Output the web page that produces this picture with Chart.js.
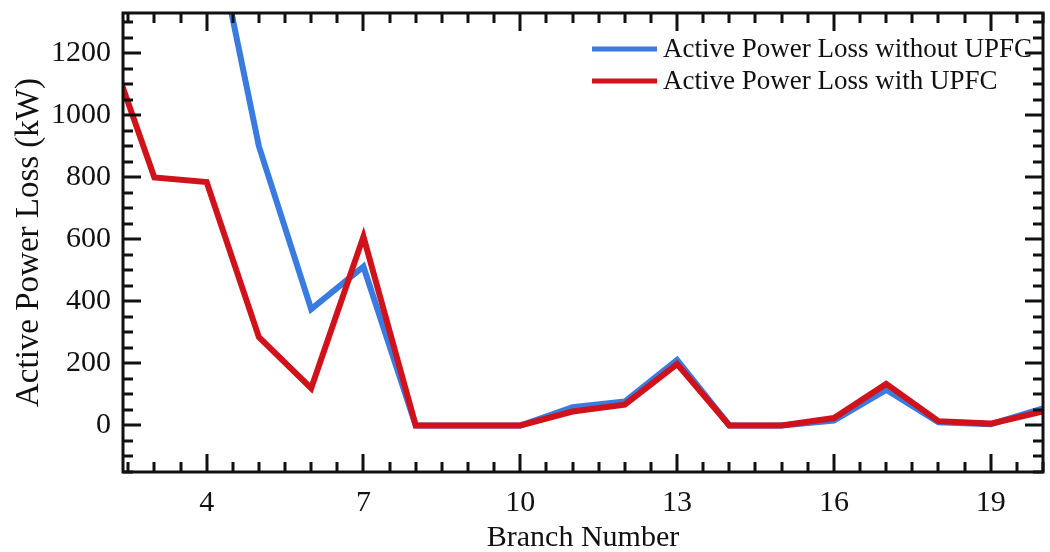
<!DOCTYPE html>
<html>
<head>
<meta charset="utf-8">
<script src="https://cdn.jsdelivr.net/npm/chart.js@4/dist/chart.umd.min.js"></script>
<style>
  html, body { margin: 0; padding: 0; background: #fff; }
</style>
</head>
<body>
<canvas id="lossChart" width="1050" height="552"></canvas>
<script>
// branch losses in kW
const branches = [2, 3, 4, 5, 6, 7, 8, 9, 10, 11, 12, 13, 14, 15, 16, 17, 18, 19, 20];
const lossWithout = [null, null, 1720, 900, 375, 512, 0, 0, 0, 59, 77, 211, 0, 0, 16, 115, 10, 4, 55];
const lossWith = [1280, 800, 785, 285, 120, 609, 0, 0, 0, 45, 67, 198, 0, 0, 24, 134, 14, 6, 45];
const xTicks = [4, 7, 10, 13, 16, 19];
const yTicks = [0, 200, 400, 600, 800, 1000, 1200];

const SERIF = "'Liberation Serif', 'Times New Roman', serif";
const INK = '#111';

const toPoints = (ys) => branches.map((b, i) => ({ x: b, y: ys[i] }));

// scales should not push the plot area around for label overflow
const noScalePadding = (s) => {
  s.paddingTop = 0; s.paddingBottom = 0; s.paddingLeft = 0; s.paddingRight = 0;
};

// boxed frame with inward major/minor ticks on all four sides
const frameTicks = {
  id: 'frameTicks',
  afterDraw(chart, args, opts) {
    const { ctx, chartArea: a, scales: { x, y } } = chart;
    ctx.save();
    ctx.strokeStyle = INK;
    ctx.lineWidth = opts.width;
    ctx.lineCap = 'butt';
    ctx.beginPath();
    for (let v = Math.ceil(x.min / opts.xMinor) * opts.xMinor; v <= x.max + 1e-9; v += opts.xMinor) {
      const px = Math.round(x.getPixelForValue(v));
      const len = xTicks.some(t => Math.abs(t - v) < 1e-6) ? opts.major : opts.minor;
      ctx.moveTo(px, a.bottom); ctx.lineTo(px, a.bottom - len);
      ctx.moveTo(px, a.top); ctx.lineTo(px, a.top + len);
    }
    for (let v = Math.ceil(y.min / opts.yMinor) * opts.yMinor; v <= y.max + 1e-9; v += opts.yMinor) {
      const py = Math.round(y.getPixelForValue(v));
      const len = yTicks.includes(v) ? opts.major : opts.minor;
      ctx.moveTo(a.left, py); ctx.lineTo(a.left + len, py);
      ctx.moveTo(a.right, py); ctx.lineTo(a.right - len, py);
    }
    ctx.stroke();
    ctx.strokeRect(a.left, a.top, a.right - a.left, a.bottom - a.top);
    ctx.restore();
  }
};

// legend inside the plot, top right
const innerLegend = {
  id: 'innerLegend',
  afterDraw(chart, args, opts) {
    const { ctx } = chart;
    ctx.save();
    ctx.font = opts.fontSize + 'px ' + SERIF;
    ctx.textBaseline = 'middle';
    ctx.textAlign = 'left';
    chart.data.datasets.forEach((ds, i) => {
      const yy = opts.y + i * opts.rowGap;
      ctx.strokeStyle = ds.borderColor;
      ctx.lineWidth = opts.lineWidth;
      ctx.beginPath();
      ctx.moveTo(opts.x, yy);
      ctx.lineTo(opts.x + opts.lineLen, yy);
      ctx.stroke();
      ctx.fillStyle = INK;
      ctx.fillText(ds.label, opts.x + opts.lineLen + opts.gap, yy + 1);
    });
    ctx.restore();
  }
};

new Chart(document.getElementById('lossChart'), {
  type: 'line',
  data: {
    datasets: [
      {
        label: 'Active Power Loss without UPFC',
        data: toPoints(lossWithout),
        borderColor: '#3a7be0',
        borderWidth: 6,
        order: 1
      },
      {
        label: 'Active Power Loss with UPFC',
        data: toPoints(lossWith),
        borderColor: '#d0121b',
        borderWidth: 6,
        order: 0
      }
    ]
  },
  options: {
    responsive: false,
    animation: false,
    devicePixelRatio: 1,
    layout: { autoPadding: false, padding: { top: 13, right: 7, left: 0, bottom: 0 } },
    elements: {
      point: { radius: 0 },
      line: { tension: 0, borderJoinStyle: 'miter', fill: false }
    },
    datasets: { line: { clip: 0, spanGaps: false } },
    plugins: {
      legend: { display: false },
      tooltip: { enabled: false },
      frameTicks: { width: 3, major: 18, minor: 10, xMinor: 0.5, yMinor: 50 },
      innerLegend: { x: 592, y: 49, rowGap: 32, lineLen: 65, gap: 6, lineWidth: 5, fontSize: 27 }
    },
    scales: {
      x: {
        type: 'linear',
        min: 2.4,
        max: 20,
        afterBuildTicks: (s) => { s.ticks = xTicks.map(v => ({ value: v })); },
        afterFit: (s) => { s.height = 80; noScalePadding(s); },
        grid: { display: false, drawTicks: false },
        border: { display: false },
        ticks: {
          autoSkip: false,
          maxRotation: 0,
          padding: 13,
          color: INK,
          font: { family: SERIF, size: 30 },
          callback: (v) => String(v)
        },
        title: {
          display: true,
          text: 'Branch Number',
          color: INK,
          font: { family: SERIF, size: 30 },
          padding: { top: 0, bottom: -4 }
        }
      },
      y: {
        type: 'linear',
        min: -150,
        max: 1330,
        afterBuildTicks: (s) => { s.ticks = yTicks.map(v => ({ value: v })); },
        afterFit: (s) => { s.width = 123; noScalePadding(s); },
        grid: { display: false, drawTicks: false },
        border: { display: false },
        ticks: {
          padding: 12,
          color: INK,
          font: { family: SERIF, size: 30 },
          callback: (v) => String(v)
        },
        title: {
          display: true,
          text: 'Active Power Loss (kW)',
          color: INK,
          font: { family: SERIF, size: 33 },
          padding: { top: 10, bottom: 0 }
        }
      }
    }
  },
  plugins: [frameTicks, innerLegend]
});
</script>
</body>
</html>
